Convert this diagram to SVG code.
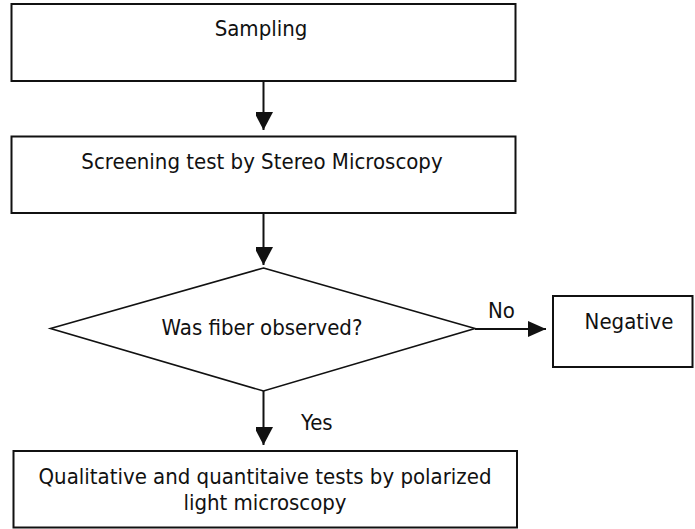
<svg xmlns="http://www.w3.org/2000/svg" width="695" height="529" viewBox="0 0 695 529">
<style>
.box{fill:#fff;stroke:#111;stroke-width:2}
.dia{fill:#fff;stroke:#111;stroke-width:1.6}
.t{font-family:"DejaVu Sans Condensed","DejaVu Sans",sans-serif;font-size:22px;fill:#111}
.c{text-anchor:middle}
.ln{stroke:#111;stroke-width:2;fill:none}
</style>
<defs>
<marker id="ah" markerWidth="20" markerHeight="18" viewBox="0 0 20 18" refX="18" refY="10" orient="auto" markerUnits="userSpaceOnUse">
<path d="M0,0.5 L18,10 L0,19.5 Z" fill="#111"/>
</marker>
<marker id="ahs" markerWidth="18" markerHeight="16" viewBox="0 0 18 16" refX="18" refY="8" orient="auto" markerUnits="userSpaceOnUse">
<path d="M0,0 L18,8 L0,16 Z" fill="#111"/>
</marker>
</defs>
<g id="connectors">
<line class="ln" x1="263.5" y1="81" x2="263.5" y2="130" marker-end="url(#ah)"/>
<line class="ln" x1="263.5" y1="213" x2="263.5" y2="265" marker-end="url(#ah)"/>
<line class="ln" x1="475" y1="329" x2="546" y2="329" marker-end="url(#ahs)"/>
<line class="ln" x1="263.5" y1="391" x2="263.5" y2="445" marker-end="url(#ah)"/>
<text class="t" x="488" y="318">No</text>
<text class="t" x="301" y="430">Yes</text>
</g>
<g id="sampling">
<rect class="box" x="11.5" y="4" width="504" height="77"/>
<text class="t c" x="261" y="36">Sampling</text>
</g>
<g id="screening">
<rect class="box" x="11.5" y="136.5" width="504" height="76.5"/>
<text class="t c" x="262" y="169">Screening test by Stereo Microscopy</text>
</g>
<g id="decision">
<polygon class="dia" points="263.5,268 475,328.5 263.5,391 50.5,328.5"/>
<text class="t c" x="262" y="335">Was fiber observed?</text>
</g>
<g id="negative">
<rect class="box" x="553" y="296" width="139.5" height="71"/>
<text class="t c" x="629" y="329">Negative</text>
</g>
<g id="qualitative">
<rect class="box" x="13.5" y="451" width="503.5" height="76.5"/>
<text class="t c" x="265" y="484">Qualitative and quantitaive tests by polarized</text>
<text class="t c" x="265" y="510">light microscopy</text>
</g>
</svg>
